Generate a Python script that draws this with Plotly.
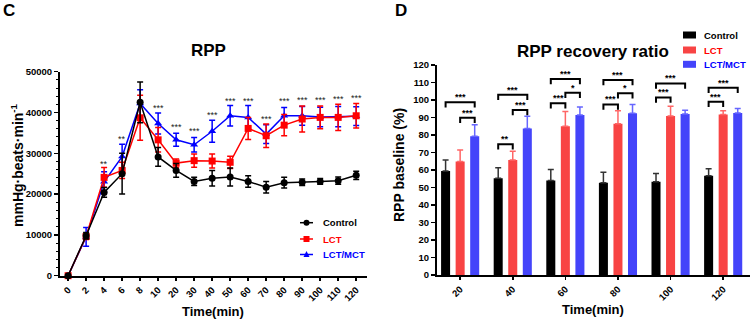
import plotly.graph_objects as go

FONT = "Liberation Sans, Arial, sans-serif"

# ---------------- Panel C data ----------------
times = ["0", "2", "4", "6", "8", "10", "20", "30", "40", "50", "60", "70", "80", "90", "100", "110", "120"]
rpp_control = [0, 9800, 20400, 25000, 42500, 29100, 25800, 23100, 23900, 24200, 23100, 21700, 22800, 22900, 23100, 23300, 24600]
rpp_control_err = [0, 800, 1200, 5000, 5000, 2300, 1700, 1000, 1900, 2200, 1400, 1400, 1300, 800, 700, 900, 1000]
rpp_lct = [0, 9600, 24100, 25800, 38700, 33300, 27600, 28200, 28100, 27800, 36100, 34300, 36900, 38400, 38800, 38800, 39200]
rpp_lct_err = [0, 700, 2400, 2000, 5500, 3000, 1000, 1600, 1700, 1500, 2700, 2900, 2600, 3200, 2800, 3200, 3000]
rpp_mix = [0, 9500, 23000, 29200, 42200, 37300, 33300, 32100, 35400, 39200, 38800, 34700, 39200, 39200, 38900, 39000, 39100]
rpp_mix_err = [0, 2300, 2500, 3000, 3400, 2600, 1600, 1800, 2700, 2500, 2900, 2300, 2000, 2300, 2400, 2500, 2300]
sig_c_times = ["4", "6", "10", "20", "30", "40", "50", "60", "70", "80", "90", "100", "110", "120"]
sig_c_y = [27300, 33600, 41200, 36500, 35500, 39500, 42900, 42900, 38400, 42900, 43100, 43100, 43200, 43500]
sig_c_text = ["**", "**", "***", "***", "***", "***", "***", "***", "***", "***", "***", "***", "***", "***"]

# ---------------- Panel D data ----------------
rec_times = ["20", "40", "60", "80", "100", "120"]
rec_control = [59.5, 55.3, 54.0, 52.7, 53.3, 56.7]
rec_control_err = [6.2, 6.0, 6.3, 6.0, 4.7, 4.0]
rec_lct = [64.8, 65.7, 85.0, 86.5, 90.8, 91.7]
rec_lct_err = [6.7, 5.0, 8.5, 7.3, 5.6, 2.2]
rec_mix = [79.3, 83.7, 91.5, 92.5, 92.0, 92.6]
rec_mix_err = [6.5, 7.0, 4.5, 5.0, 2.2, 2.6]
# brackets: (time index, first bar, second bar, height, label); bars 0=Control 1=LCT 2=LCT/MCT
brackets = [
    (0, 0, 2, 98.7, "***"), (0, 1, 2, 89.9, "***"),
    (1, 0, 2, 103.0, "***"), (1, 1, 2, 94.3, "***"), (1, 0, 1, 74.7, "**"),
    (2, 0, 2, 112.0, "***"), (2, 1, 2, 104.2, "*"), (2, 0, 1, 98.1, "***"),
    (3, 0, 2, 111.4, "***"), (3, 1, 2, 103.8, "*"), (3, 0, 1, 97.5, "***"),
    (4, 0, 2, 109.5, "***"), (4, 0, 1, 101.5, "***"),
    (5, 0, 2, 107.0, "***"), (5, 0, 1, 99.0, "***"),
]

W, H = 753, 323
def px(x):
    return x / W
def py(y):
    return 1 - y / H

fig = go.Figure()

# ---- Panel C traces (drawn blue, red, black so black is on top) ----
xc = list(range(len(times)))
series_c = [
    ("LCT/MCT", rpp_mix, rpp_mix_err, "#0000FF", "triangle-up", 7),
    ("LCT", rpp_lct, rpp_lct_err, "#FF0000", "square", 7),
    ("Control", rpp_control, rpp_control_err, "#000000", "circle", 7),
]
for name, vals, errs, col, sym, sz in series_c:
    fig.add_trace(go.Scatter(
        x=xc, y=vals, mode="lines+markers", name=name, showlegend=False,
        line=dict(color=col, width=1.5),
        marker=dict(symbol=sym, size=sz, color=col),
        error_y=dict(type="data", array=errs, color=col, thickness=1.5, width=3),
        cliponaxis=False, xaxis="x", yaxis="y",
    ))

for t, yv, txt in zip(sig_c_times, sig_c_y, sig_c_text):
    fig.add_annotation(x=times.index(t), y=yv, xref="x", yref="y", text=txt, showarrow=False,
                       font=dict(family=FONT, size=9, color="#222222"))

# ---- Panel D bars ----
xi = list(range(len(rec_times)))
series_d = [
    ("Control", rec_control, rec_control_err, "#000000", "#333333"),
    ("LCT", rec_lct, rec_lct_err, "#F84444", "#FF6666"),
    ("LCT/MCT", rec_mix, rec_mix_err, "#4444FA", "#6666FF"),
]
for name, vals, errs, col, ecol in series_d:
    fig.add_trace(go.Bar(
        x=xi, y=vals, name=name, showlegend=False,
        marker=dict(color=col, line=dict(width=0)),
        error_y=dict(type="data", symmetric=False, array=errs, arrayminus=[0] * len(errs),
                     color=ecol, thickness=1.5, width=3),
        xaxis="x2", yaxis="y2",
    ))

bargap = 0.17
bargroupgap = 0.38
slot = (1 - bargap) / 3
tip = 3.0
for gi, b0, b1, yv, lab in brackets:
    x0 = gi + (b0 - 1) * slot
    x1 = gi + (b1 - 1) * slot
    fig.add_shape(type="path", xref="x2", yref="y2",
                  path=f"M {x0},{yv - tip} L {x0},{yv} L {x1},{yv} L {x1},{yv - tip}",
                  line=dict(color="black", width=2))
    fig.add_annotation(x=(x0 + x1) / 2, y=yv, xref="x2", yref="y2", text=lab, showarrow=False,
                       yanchor="bottom", yshift=-2,
                       font=dict(family=FONT, size=9, color="black", weight="bold"))

# ---- text annotations (titles, axis titles, panel labels) ----
def ann(text, x, y, size, angle=0, color="black", xanchor="center"):
    fig.add_annotation(x=px(x), y=py(y), xref="paper", yref="paper", text=text, showarrow=False,
                       textangle=angle, xanchor=xanchor, yanchor="middle",
                       font=dict(family=FONT, size=size, color=color, weight="bold"))

ann("C", 9, 10, 17)
ann("D", 401, 10, 17)
ann("RPP", 209, 50, 17)
ann("RPP recovery ratio", 593, 52, 17)
ann("mmHg·beats·min<sup>-1</sup>", 17, 165, 14, -90)
ann("RPP baseline (%)", 399, 165, 14, -90)
ann("Time(min)", 213, 311, 13)
ann("Time(min)", 593, 309, 13)

# ---- legends drawn by hand ----
leg_c = [("Control", "#000000", "circle", 222.7), ("LCT", "#FF0000", "square", 239.0), ("LCT/MCT", "#0000FF", "triangle", 254.5)]
for name, col, sym, yy in leg_c:
    fig.add_shape(type="line", xref="paper", yref="paper", x0=px(300), x1=px(313), y0=py(yy), y1=py(yy),
                  line=dict(color=col, width=1.5))
    cx, r = 306.5, 3
    if sym == "circle":
        fig.add_shape(type="circle", xref="paper", yref="paper", x0=px(cx - r), x1=px(cx + r),
                      y0=py(yy + r), y1=py(yy - r), fillcolor=col, line=dict(width=0))
    elif sym == "square":
        fig.add_shape(type="rect", xref="paper", yref="paper", x0=px(cx - r), x1=px(cx + r),
                      y0=py(yy + r), y1=py(yy - r), fillcolor=col, line=dict(width=0))
    else:
        fig.add_shape(type="path", xref="paper", yref="paper",
                      path=f"M {px(cx - r)},{py(yy + 2.5)} L {px(cx + r)},{py(yy + 2.5)} L {px(cx)},{py(yy - 3.5)} Z",
                      fillcolor=col, line=dict(width=0))
    ann(name, 321, yy, 9.5, color=col, xanchor="left")

leg_d = [("Control", "#000000", 35.0), ("LCT", "#F84444", 50.0), ("LCT/MCT", "#4444FA", 64.3)]
leg_d_text = {"Control": "#000000", "LCT": "#FF0000", "LCT/MCT": "#0000FF"}
for name, col, yy in leg_d:
    fig.add_shape(type="rect", xref="paper", yref="paper", x0=px(683), x1=px(696),
                  y0=py(yy + 3.5), y1=py(yy - 3.5), fillcolor=col, line=dict(width=0))
    ann(name, 702, yy, 9.5, color=leg_d_text[name], xanchor="left")

tickfont = dict(family=FONT, size=9.5, color="black", weight="bold")
axis_common = dict(showline=True, linecolor="black", linewidth=2, showgrid=False, zeroline=False,
                   tickwidth=1.5, tickcolor="black", tickfont=tickfont, automargin=False)
fig.update_layout(
    template=None,
    width=W, height=H, autosize=False,
    margin=dict(l=0, r=0, t=0, b=0, pad=0, autoexpand=False),
    paper_bgcolor="white", plot_bgcolor="white",
    font=dict(family=FONT, color="black"),
    showlegend=False,
    barmode="group", bargap=bargap, bargroupgap=bargroupgap,
    xaxis=dict(domain=[px(60), px(367)], range=[-0.45, 16.6], tickvals=xc, ticktext=times,
               ticks="outside", ticklen=3, tickangle=-45, anchor="y", **axis_common),
    yaxis=dict(domain=[py(275.7), py(71.7)], range=[0, 50000], tickvals=[0, 10000, 20000, 30000, 40000, 50000],
               tickformat="d", ticks="outside", ticklen=4,
               minor=dict(dtick=2000, ticks="outside", ticklen=2, tickwidth=1, tickcolor="black"),
               anchor="x", **axis_common),
    xaxis2=dict(domain=[px(437), px(750)], range=[-0.44, 5.51], tickvals=xi, ticktext=rec_times,
                ticks="outside", ticklen=3, tickangle=-45, anchor="y2", **axis_common),
    yaxis2=dict(domain=[py(275), py(65)], range=[0, 120], dtick=10,
                ticks="outside", ticklen=4, anchor="x2", **axis_common),
)

fig.write_html(
    "out.html",
    config={"displayModeBar": False, "staticPlot": True},
    post_script=(
        "document.documentElement.style.margin='0';"
        "document.documentElement.style.overflow='hidden';"
        "document.body.style.margin='0';document.body.style.padding='0';"
        "document.body.style.overflow='hidden';"
    ),
)
